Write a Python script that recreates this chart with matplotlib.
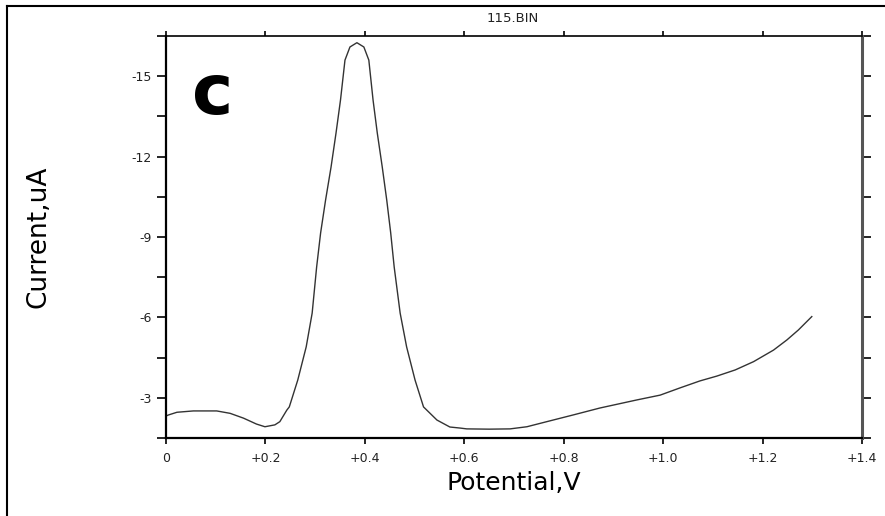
import numpy as np
import matplotlib
matplotlib.use('Agg')
import matplotlib.pyplot as plt
from matplotlib.lines import Line2D
from matplotlib.ticker import MultipleLocator

# potential (V) and current (uA)
potential = [0.000, 0.005, 0.022, 0.055, 0.102, 0.129, 0.156, 0.182, 0.199, 0.219,
             0.229, 0.243, 0.248, 0.265, 0.282, 0.294, 0.303, 0.311, 0.321,
             0.332, 0.342, 0.351, 0.360, 0.370, 0.384, 0.398, 0.408, 0.4165, 0.425,
             0.435, 0.444, 0.452, 0.459, 0.471, 0.484, 0.501, 0.518, 0.545,
             0.571, 0.592, 0.605, 0.650, 0.692, 0.726, 0.766, 0.819, 0.873, 0.947,
             0.994, 1.034, 1.074, 1.108, 1.145, 1.182, 1.222, 1.249, 1.272, 1.299]
current = [-2.32, -2.36, -2.46, -2.51, -2.51, -2.42, -2.24, -2.02, -1.92, -1.99,
           -2.11, -2.54, -2.66, -3.66, -4.90, -6.16, -7.88, -9.15, -10.38,
           -11.61, -12.88, -14.11, -15.60, -16.09, -16.25, -16.09, -15.60, -14.11, -12.88,
           -11.61, -10.38, -9.15, -7.88, -6.16, -4.90, -3.66, -2.66, -2.17,
           -1.91, -1.87, -1.84, -1.83, -1.84, -1.92, -2.11, -2.36, -2.62, -2.92,
           -3.10, -3.37, -3.63, -3.81, -4.04, -4.35, -4.78, -5.16, -5.53, -6.03]

xticks = [0, 0.2, 0.4, 0.6, 0.8, 1.0, 1.2, 1.4]
xticklabels = ['0', '+0.2', '+0.4', '+0.6', '+0.8', '+1.0', '+1.2', '+1.4']
yticks = [-15, -12, -9, -6, -3]
yticklabels = ['-15', '-12', '-9', '-6', '-3']

fig = plt.figure(figsize=(8.85, 5.16), dpi=100)
ax = fig.add_axes([166/885, 1-438/516, (862-166)/885, (438-36)/516])

ax.plot(potential, current, color='#333333', lw=1.0)

ax.set_xlim(0, 1.4)
ax.set_ylim(-1.5, -16.5)
ax.set_xticks(xticks)
ax.set_xticklabels(xticklabels)
ax.set_yticks(yticks)
ax.set_yticklabels(yticklabels)
ax.yaxis.set_minor_locator(MultipleLocator(1.5))

ax.tick_params(axis='x', which='both', direction='out', length=4.5, width=1.2,
               pad=5.5, labelsize=9, top=True, bottom=True)
ax.tick_params(axis='y', which='both', direction='out', length=6.5, width=1.2,
               pad=3.5, labelsize=9, left=True, right=True)
for t in ax.get_xticklabels() + ax.get_yticklabels():
    t.set_color('#222222')

# top ticks shorter
for tl in ax.xaxis.get_major_ticks():
    tl.tick2line.set_markersize(3.5)

for s in ['left', 'bottom']:
    ax.spines[s].set_linewidth(1.6)
ax.spines['top'].set_linewidth(1.2)
ax.spines['right'].set_linewidth(2.2)
ax.spines['right'].set_color('#555555')

ax.set_ylabel('Current,uA', fontsize=19)
ax.yaxis.set_label_coords((39-166)/696, 0.5)
ax.yaxis.label.set_va('center')
ax.set_xlabel('Potential,V', fontsize=18)
ax.xaxis.set_label_coords(0.5, (438-483)/402)
ax.xaxis.label.set_va('center')

# panel letter
ax.text(0.0946, -14.3, 'c', fontsize=50, fontweight='bold', ha='center', va='center')

fig.text(513/885, 1-18/516, '115.BIN', fontsize=9.5, ha='center', va='center',
         color='#222222')

# outer frame
fig.add_artist(Line2D([7/885, 7/885], [0, 1-6/516], color='black', lw=1.5))
fig.add_artist(Line2D([7/885, 1], [1-6/516, 1-6/516], color='black', lw=1.5))

fig.savefig('out.png', dpi=100)
